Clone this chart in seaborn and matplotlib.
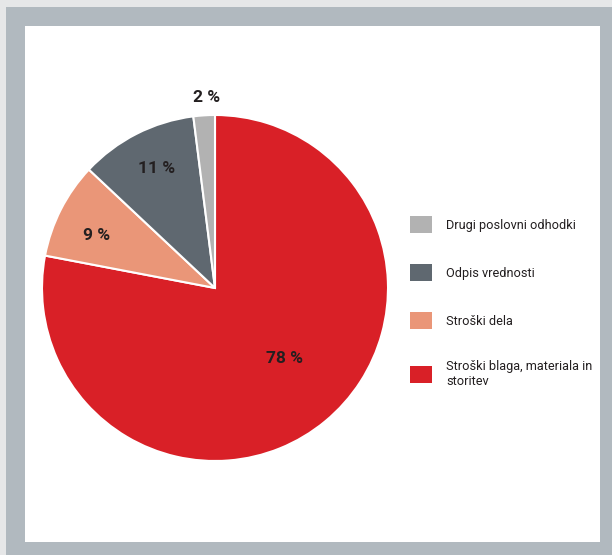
import matplotlib
matplotlib.use('Agg')
import matplotlib.pyplot as plt
from matplotlib.patches import Rectangle
import numpy as np
import seaborn as sns

labels = ['Stroški blaga, materiala in\nstoritev', 'Stroški dela',
          'Odpis vrednosti', 'Drugi poslovni odhodki']
values = [78, 9, 11, 2]
colors = ['#d92027', '#ea9678', '#5f6870', '#b2b2b2']

sns.set_theme(style='white')
plt.rcParams['font.family'] = ['Roboto', 'DejaVu Sans']

W, H = 612, 555
fig = plt.figure(figsize=(W / 100, H / 100), dpi=100, facecolor='#e6e7e8')
# grey frame and white panel
fig.patches.append(Rectangle((6 / W, 0), 1, 1 - 7 / H, transform=fig.transFigure,
                             facecolor='#b1b9bf', edgecolor='none', zorder=-2))
fig.patches.append(Rectangle((25 / W, 1 - 542 / H), (600 - 25) / W, (542 - 26) / H,
                             transform=fig.transFigure, facecolor='white',
                             edgecolor='none', zorder=-1))

cx, cy, r = 215, 288, 173
ax = fig.add_axes([(cx - r) / W, (H - cy - r) / H, 2 * r / W, 2 * r / H])
ax.set_zorder(2)
ax.set_facecolor('none')
wedges, texts, autotexts = ax.pie(values, colors=colors, startangle=90, counterclock=False,
                                  autopct=lambda p: f'{p:.0f} %', pctdistance=0.76,
                                  wedgeprops=dict(edgecolor='white', linewidth=1.5),
                                  textprops=dict(fontsize=12.5, fontweight='bold', color='#231f20'))
ax.set_xlim(-1, 1)
ax.set_ylim(-1, 1)
ax.axis('off')

# move the big label inward and the tiny one outside
for w, t, d, shift in zip(wedges, autotexts, [0.57, 0.75, 0.77, 1.10], [5, 3, -1, -1]):
    ang = np.deg2rad((w.theta1 + w.theta2) / 2 + shift)
    t.set_position((d * np.cos(ang), d * np.sin(ang)))

leg = fig.legend(wedges[::-1], labels[::-1], loc='upper left',
                 bbox_to_anchor=(410 / W, 1 - 216 / H), frameon=False,
                 fontsize=9.2, handlelength=1.7, handleheight=1.7,
                 handletextpad=1.15, labelspacing=2.4, borderpad=0, borderaxespad=0)
leg.set_zorder(3)
for txt in leg.get_texts():
    txt.set_color('#231f20')
for h in leg.legend_handles:
    h.set_edgecolor('none')

fig.savefig('out.png', dpi=100, facecolor=fig.get_facecolor())
